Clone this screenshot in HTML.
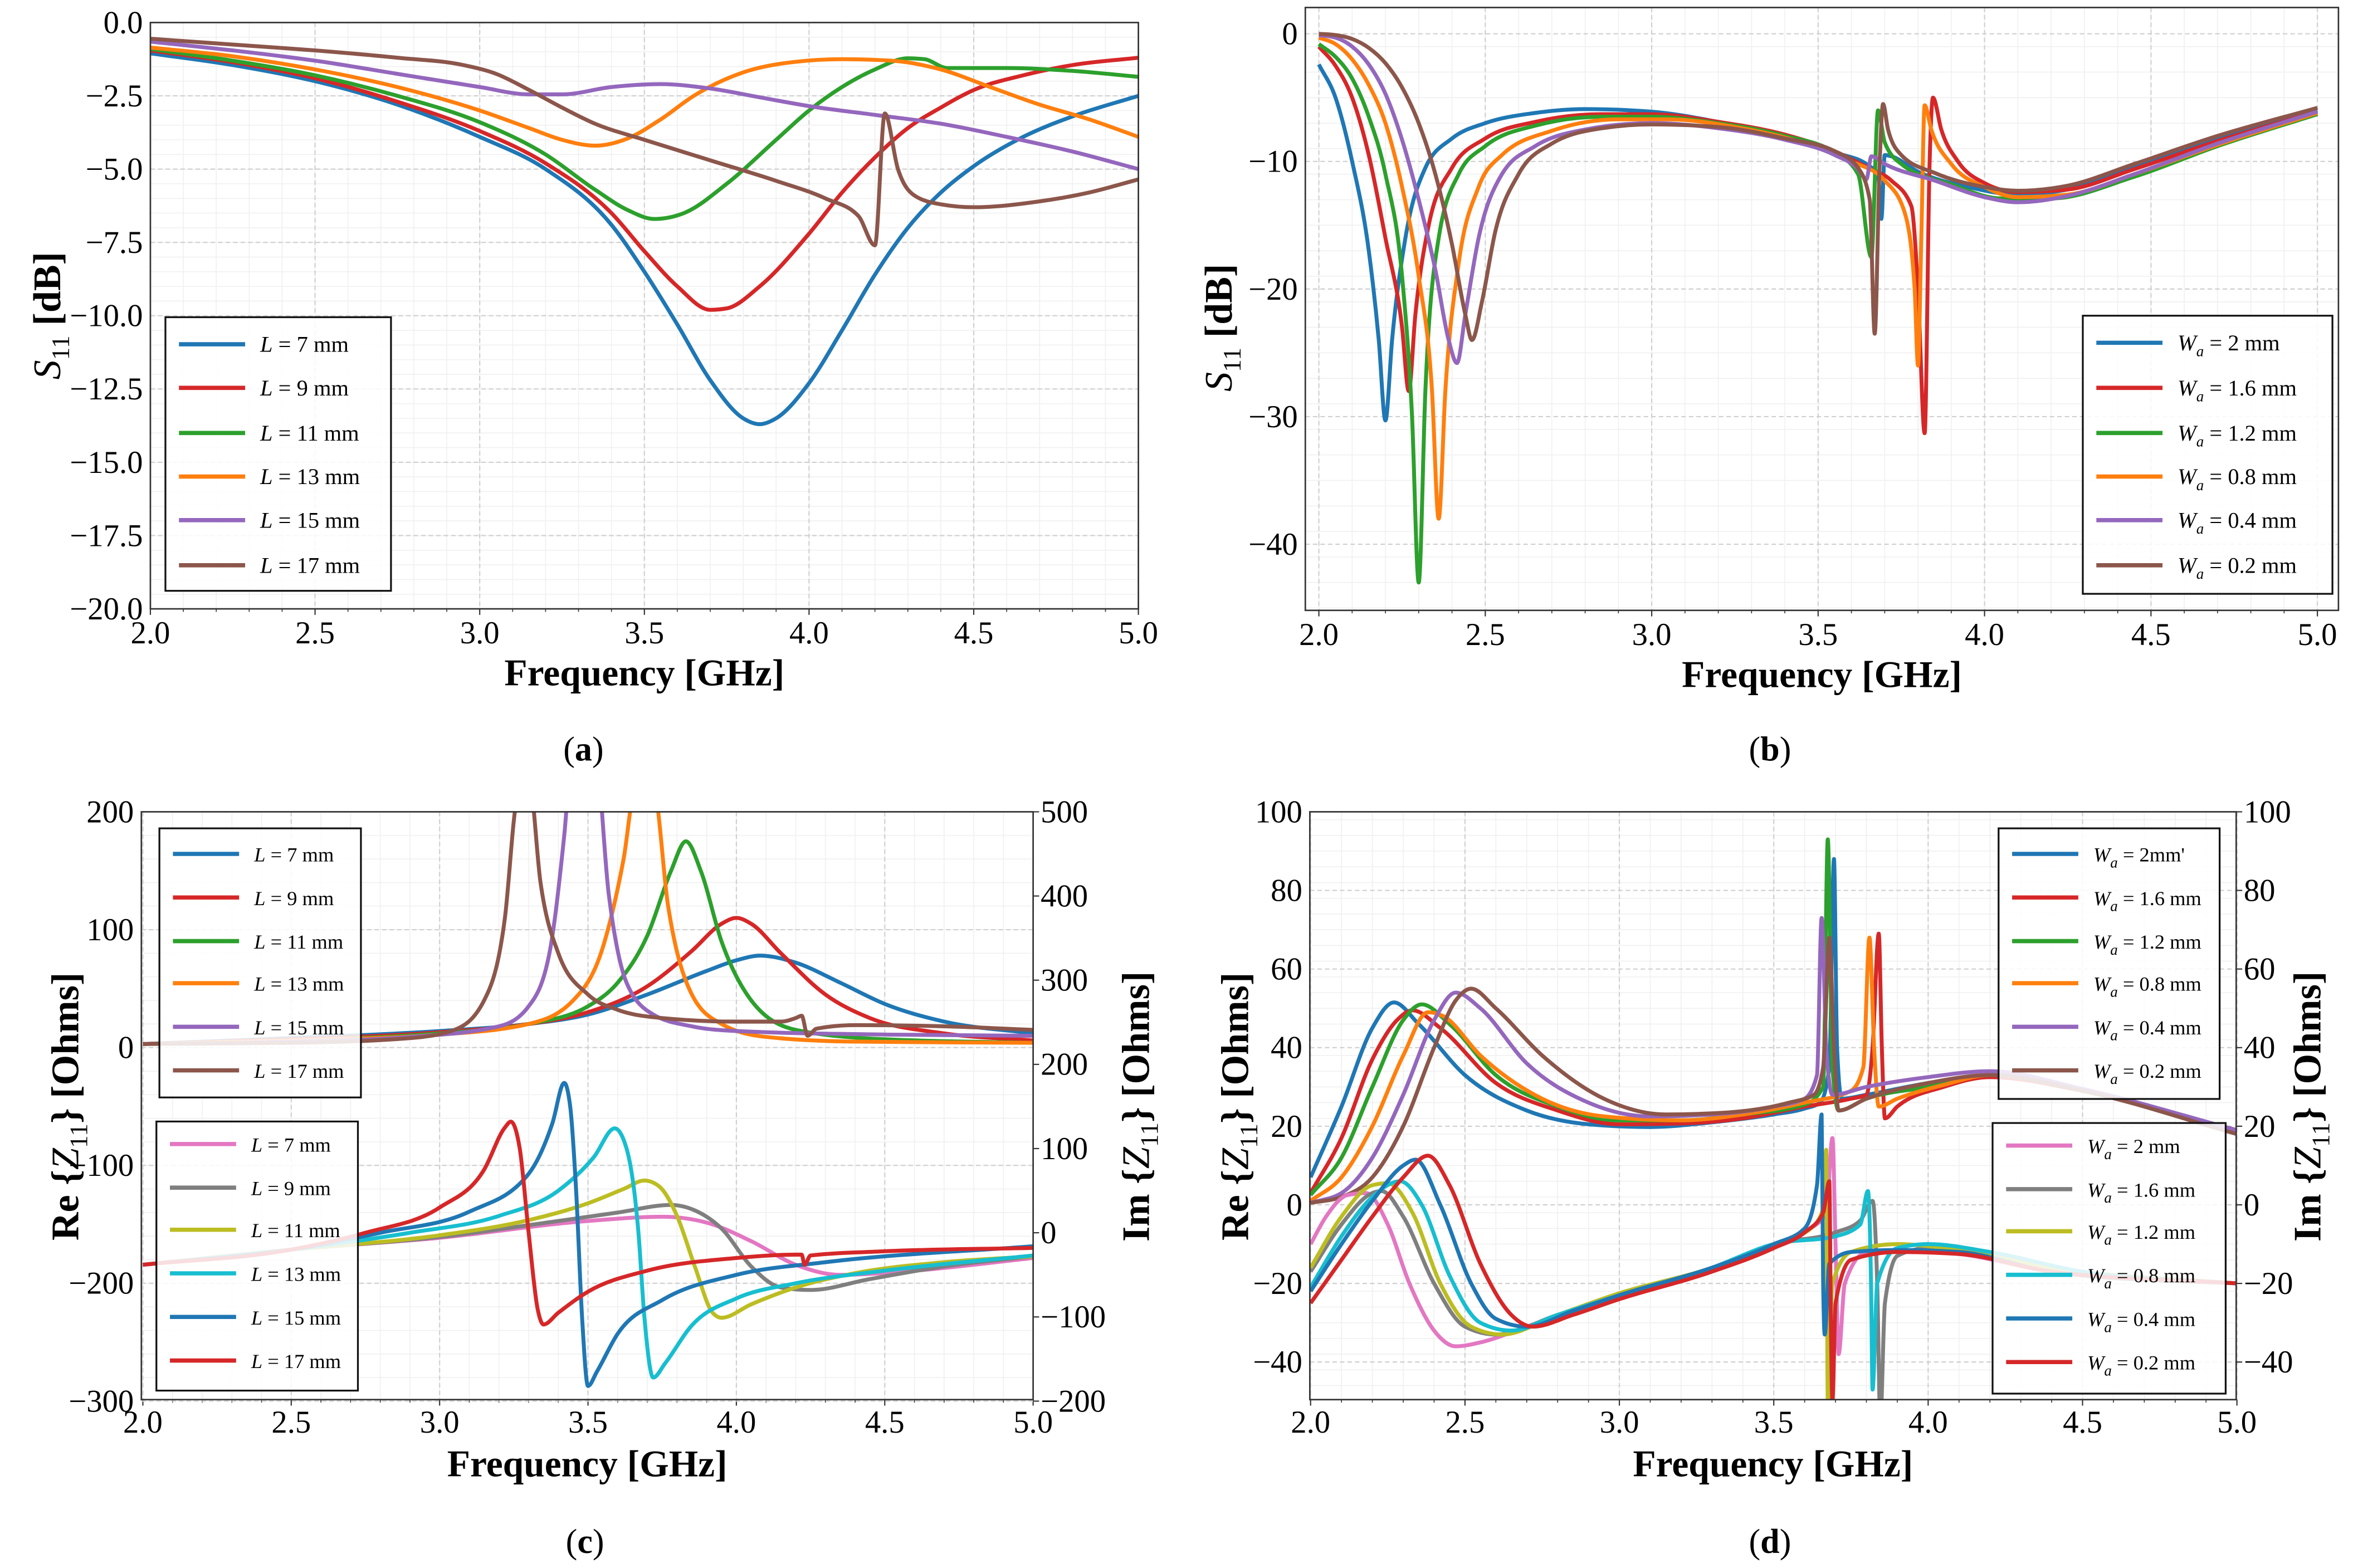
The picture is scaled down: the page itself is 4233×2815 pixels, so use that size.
<!DOCTYPE html>
<html><head><meta charset="utf-8"><title>S11 and Z11 parametric study</title>
<style>
html,body{margin:0;padding:0;background:#fff;}
svg{display:block;}
text{font-family:"Liberation Serif","DejaVu Serif",serif;fill:#000;}
</style></head>
<body>
<svg id="fig" xmlns="http://www.w3.org/2000/svg" width="4233" height="2815" viewBox="0 0 1568 1043" preserveAspectRatio="none"></svg>
<script>
// ---------- Panel (a): S11 vs L ----------
const a_L7  = [[2.0,-1.05],[2.25,-1.45],[2.5,-2.0],[2.75,-2.8],[3.0,-3.9],[3.2,-5.0],[3.4,-6.9],[3.5,-8.5],[3.6,-10.3],[3.7,-12.2],[3.8,-13.5],[3.85,-13.7],[3.9,-13.5],[4.0,-12.3],[4.1,-10.5],[4.2,-8.6],[4.3,-7.0],[4.4,-5.8],[4.5,-4.9],[4.65,-3.9],[4.8,-3.2],[5.0,-2.5]];
const a_L9  = [[2.0,-0.95],[2.25,-1.35],[2.5,-1.9],[2.75,-2.7],[3.0,-3.7],[3.2,-4.8],[3.4,-6.5],[3.5,-7.8],[3.6,-9.0],[3.7,-9.8],[3.75,-9.75],[3.85,-9.0],[4.0,-7.2],[4.1,-5.8],[4.2,-4.6],[4.3,-3.6],[4.4,-2.9],[4.5,-2.3],[4.65,-1.8],[4.8,-1.45],[5.0,-1.2]];
const a_L11 = [[2.0,-0.9],[2.25,-1.3],[2.5,-1.8],[2.75,-2.5],[3.0,-3.4],[3.2,-4.5],[3.35,-5.7],[3.45,-6.4],[3.53,-6.7],[3.62,-6.5],[3.75,-5.5],[3.9,-4.0],[4.0,-3.0],[4.1,-2.2],[4.2,-1.6],[4.3,-1.22],[4.35,-1.25],[4.42,-1.55],[4.6,-1.55],[4.8,-1.65],[5.0,-1.85]];
const a_L13 = [[2.0,-0.85],[2.25,-1.15],[2.5,-1.6],[2.75,-2.2],[3.0,-3.0],[3.15,-3.6],[3.25,-4.0],[3.35,-4.2],[3.45,-3.95],[3.55,-3.3],[3.65,-2.5],[3.8,-1.7],[3.95,-1.35],[4.1,-1.25],[4.25,-1.3],[4.4,-1.6],[4.55,-2.2],[4.7,-2.8],[4.85,-3.3],[5.0,-3.9]];
const a_L15 = [[2.0,-0.65],[2.25,-0.95],[2.5,-1.3],[2.75,-1.75],[3.0,-2.2],[3.15,-2.45],[3.25,-2.45],[3.4,-2.2],[3.55,-2.1],[3.7,-2.25],[3.85,-2.55],[4.0,-2.85],[4.2,-3.15],[4.4,-3.45],[4.6,-3.9],[4.8,-4.4],[5.0,-5.0]];
const a_L17 = [[2.0,-0.55],[2.25,-0.75],[2.5,-0.95],[2.75,-1.2],[2.95,-1.45],[3.05,-1.75],[3.15,-2.3],[3.25,-2.9],[3.35,-3.45],[3.5,-4.0],[3.7,-4.7],[3.9,-5.4],[4.05,-6.0],[4.15,-6.6],[4.2,-7.6],[4.23,-3.1],[4.27,-5.0],[4.32,-5.9],[4.4,-6.2],[4.5,-6.3],[4.7,-6.1],[4.85,-5.8],[5.0,-5.35]];
const a_labels = ["7","9","11","13","15","17"];
const a_yticks = [0,-2.5,-5,-7.5,-10,-12.5,-15,-17.5,-20];

// ---------- Panel (b): S11 vs Wa ----------
const b_W20 = [[2.0,-2.4],[2.05,-5],[2.1,-10],[2.15,-17],[2.18,-24],[2.2,-30.3],[2.22,-24],[2.26,-16],[2.32,-10.5],[2.4,-8.2],[2.5,-7],[2.65,-6.2],[2.8,-5.9],[3.0,-6.1],[3.2,-6.9],[3.4,-8.0],[3.55,-9.3],[3.65,-10.3],[3.68,-11],[3.69,-14.5],[3.70,-9.5],[3.72,-9.6],[3.8,-10.8],[3.95,-12],[4.1,-12.6],[4.25,-12.2],[4.45,-10.5],[4.7,-8.3],[5.0,-6.0]];
const b_W16 = [[2.0,-1.0],[2.05,-2.5],[2.1,-5],[2.15,-9.5],[2.2,-16],[2.25,-23],[2.27,-28],[2.29,-22],[2.33,-15],[2.4,-10.5],[2.5,-8.2],[2.65,-6.9],[2.85,-6.3],[3.0,-6.3],[3.2,-6.9],[3.4,-7.9],[3.55,-9.2],[3.65,-10.5],[3.72,-11.5],[3.78,-13.5],[3.8,-20],[3.82,-31.3],[3.835,-10],[3.845,-5.0],[3.87,-7.5],[3.92,-10.0],[4.0,-11.7],[4.1,-12.4],[4.25,-12.2],[4.45,-10.6],[4.7,-8.4],[5.0,-6.1]];
const b_W12 = [[2.0,-0.8],[2.05,-1.8],[2.1,-3.5],[2.15,-6.5],[2.2,-11],[2.25,-19],[2.28,-30],[2.3,-43],[2.32,-28],[2.36,-16],[2.42,-11],[2.5,-8.8],[2.65,-7.2],[2.85,-6.5],[3.0,-6.5],[3.2,-7.0],[3.4,-8.0],[3.55,-9.3],[3.62,-11],[3.66,-17.5],[3.68,-6.0],[3.7,-8.5],[3.75,-10.2],[3.9,-11.8],[4.05,-12.9],[4.2,-12.9],[4.45,-11.2],[4.7,-8.8],[5.0,-6.3]];
const b_W08 = [[2.0,-0.3],[2.05,-0.8],[2.1,-2],[2.15,-4],[2.2,-7],[2.25,-12],[2.3,-19],[2.34,-28],[2.36,-38],[2.38,-28],[2.42,-18],[2.48,-12],[2.55,-9.5],[2.7,-7.6],[2.9,-6.7],[3.05,-6.7],[3.25,-7.3],[3.45,-8.5],[3.6,-10],[3.7,-11.5],[3.76,-14],[3.79,-20],[3.8,-26],[3.81,-16],[3.82,-5.6],[3.84,-7.5],[3.9,-10.2],[4.0,-12.0],[4.1,-12.8],[4.25,-12.6],[4.45,-11],[4.7,-8.7],[5.0,-6.2]];
const b_W04 = [[2.0,-0.1],[2.05,-0.3],[2.1,-1.0],[2.15,-2.4],[2.2,-4.7],[2.25,-8.3],[2.3,-13],[2.35,-18.5],[2.39,-24],[2.415,-25.8],[2.44,-22],[2.48,-16],[2.55,-11],[2.65,-8.8],[2.8,-7.5],[3.0,-7.0],[3.2,-7.4],[3.4,-8.3],[3.55,-9.5],[3.62,-10.6],[3.645,-11.4],[3.66,-9.6],[3.7,-10.2],[3.85,-11.5],[4.0,-12.8],[4.1,-13.2],[4.25,-12.7],[4.45,-11],[4.7,-8.6],[5.0,-6.1]];
const b_W02 = [[2.0,0],[2.05,-0.1],[2.1,-0.4],[2.15,-1.1],[2.2,-2.3],[2.25,-4.2],[2.3,-7],[2.35,-11],[2.4,-16.5],[2.44,-22],[2.46,-24],[2.49,-21],[2.53,-15.5],[2.6,-11],[2.7,-8.6],[2.85,-7.4],[3.0,-7.1],[3.2,-7.3],[3.4,-8.2],[3.55,-9.2],[3.62,-10.5],[3.655,-13],[3.67,-23.5],[3.685,-10],[3.695,-5.5],[3.71,-7.5],[3.75,-9.5],[3.85,-10.9],[4.0,-12],[4.1,-12.3],[4.25,-11.9],[4.45,-10.2],[4.7,-8.0],[5.0,-5.8]];
const b_labels = ["2","1.6","1.2","0.8","0.4","0.2"];
const b_yticks = [0,-10,-20,-30,-40];

// ---------- Panel (c): Z11 vs L ----------
const c_re7  = [[2.0,3],[2.5,8],[3.0,14],[3.3,20],[3.5,28],[3.7,45],[3.9,65],[4.0,74],[4.08,78],[4.2,72],[4.35,55],[4.5,37],[4.7,22],[5.0,12]];
const c_re9  = [[2.0,3],[2.5,7],[3.0,13],[3.3,20],[3.5,30],[3.7,52],[3.85,82],[3.95,105],[4.0,110],[4.05,105],[4.15,80],[4.3,45],[4.45,25],[4.7,12],[5.0,6]];
const c_re11 = [[2.0,3],[2.5,6],[3.0,12],[3.3,20],[3.5,35],[3.6,55],[3.7,95],[3.78,150],[3.83,175],[3.88,150],[3.95,90],[4.05,40],[4.2,15],[4.5,7],[5.0,4]];
const c_re13 = [[2.0,3],[2.5,6],[3.0,11],[3.3,20],[3.45,40],[3.55,85],[3.62,160],[3.66,220],[3.72,220],[3.77,120],[3.85,45],[3.95,20],[4.1,9],[4.4,5],[5.0,4]];
const c_re15 = [[2.0,3],[2.5,5],[2.9,9],[3.2,18],[3.3,35],[3.37,80],[3.42,180],[3.45,260],[3.52,260],[3.57,130],[3.63,55],[3.72,28],[3.85,18],[4.0,14],[4.5,11],[5.0,10]];
const c_re17 = [[2.0,3],[2.5,4],[2.9,8],[3.05,15],[3.15,40],[3.22,110],[3.26,210],[3.3,230],[3.34,140],[3.4,80],[3.5,45],[3.6,32],[3.75,25],[4.0,22],[4.15,22],[4.2,25],[4.22,27],[4.24,10],[4.27,16],[4.4,19],[4.7,18],[5.0,15]];
const c_im7  = [[2.0,-38],[2.5,-20],[3.0,-6],[3.5,14],[3.75,19],[3.9,12],[4.05,-10],[4.2,-38],[4.35,-50],[4.6,-45],[5.0,-30]];
const c_im9  = [[2.0,-38],[2.5,-20],[3.0,-5],[3.4,14],[3.6,24],[3.78,33],[3.85,28],[3.95,5],[4.05,-40],[4.15,-65],[4.25,-68],[4.45,-55],[4.7,-40],[5.0,-28]];
const c_im11 = [[2.0,-38],[2.5,-20],[3.0,-3],[3.3,15],[3.5,35],[3.62,52],[3.69,62],[3.74,55],[3.8,20],[3.86,-40],[3.92,-95],[3.95,-101],[4.05,-85],[4.2,-65],[4.4,-48],[4.7,-35],[5.0,-28]];
const c_im13 = [[2.0,-38],[2.5,-20],[2.9,0],[3.2,20],[3.4,50],[3.52,90],[3.59,124],[3.63,100],[3.67,0],[3.69,-100],[3.72,-172],[3.76,-155],[3.85,-110],[4.0,-78],[4.2,-60],[4.5,-45],[5.0,-27]];
const c_im15 = [[2.0,-38],[2.5,-20],[2.8,0],[3.1,25],[3.3,70],[3.38,130],[3.42,178],[3.44,150],[3.46,50],[3.48,-100],[3.5,-182],[3.53,-165],[3.6,-120],[3.75,-80],[4.0,-50],[4.3,-35],[5.0,-16]];
const c_im17 = [[2.0,-38],[2.5,-20],[2.75,0],[3.0,30],[3.15,75],[3.22,125],[3.24,132],[3.27,100],[3.3,0],[3.33,-90],[3.35,-109],[3.4,-95],[3.5,-70],[3.7,-45],[4.0,-30],[4.2,-26],[4.22,-26],[4.23,-38],[4.25,-27],[4.5,-22],[5.0,-18]];
const c_ylTicks = [200,100,0,-100,-200,-300];
const c_yrTicks = [500,400,300,200,100,0,-100,-200];

// ---------- Panel (d): Z11 vs Wa ----------
const d_re20 = [[2.0,7],[2.1,25],[2.2,45],[2.27,51.5],[2.35,46],[2.5,33],[2.7,24],[2.9,20.5],[3.1,19.8],[3.3,21],[3.5,23],[3.6,24.5],[3.65,26],[3.68,35],[3.695,88],[3.705,40],[3.72,27],[3.8,28],[4.0,31],[4.2,33],[4.5,29],[5.0,19]];
const d_re16 = [[2.0,3],[2.1,17],[2.2,37],[2.28,47],[2.33,49.5],[2.42,45],[2.6,31],[2.8,24],[3.0,20.5],[3.2,20.7],[3.4,22],[3.6,25],[3.75,27],[3.8,28],[3.82,40],[3.84,69],[3.85,40],[3.86,22],[3.9,25],[4.05,30],[4.2,32.5],[4.5,29],[5.0,19]];
const d_re12 = [[2.0,2.5],[2.1,12],[2.2,30],[2.3,47],[2.36,51],[2.45,46],[2.6,33],[2.8,25],[3.0,21.5],[3.2,21.5],[3.4,23],[3.6,25.5],[3.66,30],[3.675,93],[3.69,35],[3.71,24],[3.8,27],[4.0,30],[4.2,33],[4.5,29],[5.0,19]];
const d_re08 = [[2.0,1],[2.1,7],[2.2,20],[2.3,38],[2.38,49],[2.43,48],[2.55,38],[2.75,27],[2.95,22.5],[3.2,21.5],[3.4,23],[3.6,26],[3.75,29],[3.79,35],[3.81,68],[3.825,40],[3.84,25],[3.9,27],[4.05,30.5],[4.2,33],[4.5,29],[5.0,19]];
const d_re04 = [[2.0,0.5],[2.1,3],[2.2,12],[2.3,28],[2.4,47],[2.47,54],[2.55,50],[2.7,36],[2.9,26],[3.1,22.5],[3.3,23],[3.5,25],[3.6,27],[3.64,33],[3.655,73],[3.67,40],[3.69,28],[3.8,30],[4.0,32.5],[4.2,34],[4.5,29.5],[5.0,19]];
const d_re02 = [[2.0,0.5],[2.1,2],[2.2,7],[2.3,20],[2.4,40],[2.47,52],[2.52,55],[2.6,50],[2.75,38],[2.95,27],[3.15,23],[3.35,23.5],[3.55,26],[3.63,28],[3.66,35],[3.68,68],[3.695,40],[3.71,24],[3.8,27],[4.0,31],[4.2,33],[4.5,29],[5.0,18]];
const d_im20 = [[2.0,-10],[2.05,-3],[2.12,2.5],[2.18,3],[2.25,-5],[2.32,-20],[2.4,-32],[2.47,-36],[2.55,-35],[2.7,-31],[3.0,-23],[3.3,-16],[3.5,-10],[3.62,-6],[3.67,-2],[3.69,17],[3.7,-10],[3.71,-38],[3.73,-20],[3.8,-12],[3.9,-11.5],[4.1,-12.5],[4.4,-17],[5.0,-20]];
const d_im16 = [[2.0,-17],[2.1,-5],[2.2,3],[2.23,3.5],[2.3,-3],[2.4,-20],[2.5,-31],[2.6,-33],[2.8,-28],[3.0,-23],[3.3,-16],[3.5,-10],[3.7,-7],[3.78,-4],[3.82,1],[3.835,-20],[3.845,-55],[3.86,-25],[3.9,-13],[4.0,-11],[4.2,-13],[4.5,-18],[5.0,-20]];
const d_im12 = [[2.0,-16],[2.1,-3],[2.2,5],[2.25,5.5],[2.33,-2],[2.42,-20],[2.52,-31],[2.62,-33],[2.8,-28],[3.0,-22.5],[3.3,-16],[3.5,-10],[3.62,-6],[3.66,-1],[3.67,14],[3.675,-50],[3.69,-20],[3.75,-12],[3.9,-10],[4.1,-11.5],[4.4,-16],[5.0,-20]];
const d_im08 = [[2.0,-21],[2.1,-8],[2.2,2],[2.29,6],[2.36,0],[2.45,-18],[2.55,-30],[2.65,-32],[2.8,-28],[3.0,-23],[3.3,-16],[3.5,-10],[3.7,-8],[3.78,-5],[3.805,3.5],[3.815,-20],[3.82,-47],[3.835,-20],[3.9,-11],[4.0,-10],[4.2,-12],[4.5,-17],[5.0,-20]];
const d_im04 = [[2.0,-22],[2.1,-10],[2.2,1],[2.3,10],[2.34,11.5],[2.42,0],[2.52,-20],[2.6,-29],[2.7,-31],[2.85,-27],[3.0,-23],[3.3,-16],[3.5,-10],[3.6,-6],[3.64,5],[3.655,23],[3.66,-20],[3.665,-33],[3.68,-15],[3.75,-12],[3.9,-11.5],[4.1,-12],[4.4,-17],[5.0,-20]];
const d_im02 = [[2.0,-25],[2.1,-14],[2.2,-3],[2.3,7],[2.38,12.5],[2.45,5],[2.55,-15],[2.65,-28],[2.72,-31],[2.85,-28],[3.0,-24],[3.3,-17],[3.5,-11],[3.6,-7],[3.66,-2],[3.68,6],[3.685,-30],[3.69,-50],[3.7,-25],[3.75,-14],[3.9,-12],[4.1,-12.5],[4.4,-17],[5.0,-20]];
const d_yTicks = [100,80,60,40,20,0,-20,-40];
const d_legendRe = ["2mm'","1.6 mm","1.2 mm","0.8 mm","0.4 mm","0.2 mm"];
const d_legendIm = ["2 mm","1.6 mm","1.2 mm","0.8 mm","0.4 mm","0.2 mm"];

const xTicks = [2.0,2.5,3.0,3.5,4.0,4.5,5.0];
const C = {blue:'#1f77b4',red:'#d62728',green:'#2ca02c',orange:'#ff7f0e',purple:'#9467bd',brown:'#8c564b',pink:'#e377c2',gray:'#7f7f7f',olive:'#bcbd22',cyan:'#17becf'};

const NS='http://www.w3.org/2000/svg';
const svg=document.getElementById('fig');
function mk(tag,parent){const e=document.createElementNS(NS,tag);(parent||svg).appendChild(e);return e;}
function lin(d0,p0,d1,p1){return v=>p0+(v-d0)*(p1-p0)/(d1-d0);}
function fmt(v,dec){let s=v.toFixed(dec);return s.replace('-','\u2212');}

function monoPath(pts){
  const n=pts.length; if(n<2) return '';
  const s=[],h=[];
  for(let i=0;i<n-1;i++){h[i]=pts[i+1][0]-pts[i][0];s[i]=(pts[i+1][1]-pts[i][1])/h[i];}
  const t=[];
  t[0]=s[0];t[n-1]=s[n-2];
  for(let i=1;i<n-1;i++){
    const p=(s[i-1]*h[i]+s[i]*h[i-1])/(h[i-1]+h[i]);
    t[i]=(Math.sign(s[i-1])+Math.sign(s[i]))*Math.min(Math.abs(s[i-1]),Math.abs(s[i]),0.5*Math.abs(p))||0;
  }
  let d='M'+pts[0][0].toFixed(2)+','+pts[0][1].toFixed(2);
  for(let i=0;i<n-1;i++){
    const dx=h[i]/3;
    d+='C'+(pts[i][0]+dx).toFixed(2)+','+(pts[i][1]+t[i]*dx).toFixed(2)+' '+(pts[i+1][0]-dx).toFixed(2)+','+(pts[i+1][1]-t[i+1]*dx).toFixed(2)+' '+pts[i+1][0].toFixed(2)+','+pts[i+1][1].toFixed(2);
  }
  return d;
}

function panel(p){
  const g=mk('g');
  
  
  const F=p.frame, xs=p.xs;
  // minor grid
  for(let f=2.0;f<=5.0001;f+=0.1){
    const x=xs(f); if(x<F.l||x>F.r) continue;
    const l=mk('line',g);l.setAttribute('x1',x);l.setAttribute('x2',x);l.setAttribute('y1',F.t);l.setAttribute('y2',F.b);
    l.setAttribute('stroke','#f0f0f0');l.setAttribute('stroke-width','0.6');
  }
  const ym=p.yMinor;
  for(let v=ym[0];v<=ym[1]+1e-9;v+=ym[2]){
    const y=p.ys(v); if(y<F.t||y>F.b) continue;
    const l=mk('line',g);l.setAttribute('x1',F.l);l.setAttribute('x2',F.r);l.setAttribute('y1',y);l.setAttribute('y2',y);
    l.setAttribute('stroke','#f0f0f0');l.setAttribute('stroke-width','0.6');
  }
  // major grid
  xTicks.forEach(f=>{
    const x=xs(f);
    const l=mk('line',g);l.setAttribute('x1',x);l.setAttribute('x2',x);l.setAttribute('y1',F.t);l.setAttribute('y2',F.b);
    l.setAttribute('stroke','#cfcfcf');l.setAttribute('stroke-width','0.8');l.setAttribute('stroke-dasharray','3,2');
    
    
    const t=mk('text',g);t.setAttribute('x',x);t.setAttribute('y',F.b+p.xTickDy);t.setAttribute('text-anchor','middle');t.setAttribute('font-size','21');
    t.textContent=f.toFixed(1);
    
    
    const tk=mk('line',g);tk.setAttribute('x1',x);tk.setAttribute('x2',x);tk.setAttribute('y1',F.b);tk.setAttribute('y2',F.b+4);tk.setAttribute('stroke','#333');tk.setAttribute('stroke-width','0.8');
  });
  for(let f=2.1;f<5;f+=0.1){const x=xs(f);if(x<F.l||x>F.r)continue;const tk=mk('line',g);tk.setAttribute('x1',x);tk.setAttribute('x2',x);tk.setAttribute('y1',F.b);tk.setAttribute('y2',F.b+2);tk.setAttribute('stroke','#333');tk.setAttribute('stroke-width','0.6');}
  p.yTicks.forEach(v=>{
    const y=p.ys(v);
    const l=mk('line',g);l.setAttribute('x1',F.l);l.setAttribute('x2',F.r);l.setAttribute('y1',y);l.setAttribute('y2',y);
    l.setAttribute('stroke','#cfcfcf');l.setAttribute('stroke-width','0.8');l.setAttribute('stroke-dasharray','3,2');
    
    
    const t=mk('text',g);t.setAttribute('x',F.l-5);t.setAttribute('y',y+7);t.setAttribute('text-anchor','end');t.setAttribute('font-size','21');
    t.textContent=fmt(v,p.yDec);
    
    
  });
  if(p.yrTicks){
    p.yrTicks.forEach(v=>{
      const y=p.yrs(v);
      const t=mk('text',g);t.setAttribute('x',F.r+5);t.setAttribute('y',y+7);t.setAttribute('text-anchor','start');t.setAttribute('font-size','21');
      t.textContent=fmt(v,0);
      
      
      const tk=mk('line',g);tk.setAttribute('x1',F.r);tk.setAttribute('x2',F.r+4);tk.setAttribute('y1',y);tk.setAttribute('y2',y);tk.setAttribute('stroke','#333');tk.setAttribute('stroke-width','0.8');
    });
  }
  // clip
  const cp=mk('clipPath',g);cp.setAttribute('id','clip-'+p.name);
  const cr=mk('rect',cp);cr.setAttribute('x',F.l);cr.setAttribute('y',F.t);cr.setAttribute('width',F.r-F.l);cr.setAttribute('height',F.b-F.t);
  const sg=mk('g',g);sg.setAttribute('clip-path','url(#clip-'+p.name+')');
  p.series.forEach(s=>{
    const ysc=s.right?p.yrs:p.ys;
    const pts=s.data.map(d=>[xs(d[0]),ysc(d[1])]);
    const path=mk('path',sg);path.setAttribute('d',monoPath(pts));path.setAttribute('fill','none');
    path.setAttribute('stroke',s.color);path.setAttribute('stroke-width','2.6');path.setAttribute('stroke-linejoin','round');
    
    
  });
  // frame
  const fr=mk('rect',g);fr.setAttribute('x',F.l);fr.setAttribute('y',F.t);fr.setAttribute('width',F.r-F.l);fr.setAttribute('height',F.b-F.t);
  fr.setAttribute('fill','none');fr.setAttribute('stroke','#333');fr.setAttribute('stroke-width','1');
  
  
  // x label
  const xl=mk('text',g);xl.setAttribute('x',(F.l+F.r)/2);xl.setAttribute('y',p.xLabelY);xl.setAttribute('text-anchor','middle');xl.setAttribute('font-size','25');xl.setAttribute('font-weight','bold');
  xl.textContent='Frequency [GHz]';
  
  
  // caption
  const cap=mk('text',g);cap.setAttribute('x',p.cap[0]);cap.setAttribute('y',p.cap[1]);cap.setAttribute('text-anchor','middle');cap.setAttribute('font-size','23');
  cap.innerHTML=p.capText;
  
  
  return g;
}

function yTitle(g,x,y,html,name){
  const t=mk('text',g);t.setAttribute('transform','translate('+x+','+y+') rotate(-90)');t.setAttribute('text-anchor','middle');
  t.setAttribute('font-size','26');t.setAttribute('font-weight','bold');
  t.innerHTML=html;
  
  
}

function legend(g,box,entries,ys,name){
  const lg=mk('g',g);
  
  
  const r=mk('rect',lg);r.setAttribute('x',box[0]);r.setAttribute('y',box[1]);r.setAttribute('width',box[2]-box[0]);r.setAttribute('height',box[3]-box[1]);
  r.setAttribute('fill','#fff');r.setAttribute('fill-opacity','0.85');r.setAttribute('stroke','#111');r.setAttribute('stroke-width','1.2');
  entries.forEach((e,i)=>{
    const y=ys[i];
    const eg=mk('g',lg);
    
    
    const l=mk('line',eg);l.setAttribute('x1',box[0]+9);l.setAttribute('x2',box[0]+53);l.setAttribute('y1',y);l.setAttribute('y2',y);
    l.setAttribute('stroke',e.color);l.setAttribute('stroke-width','2.8');
    const t=mk('text',eg);t.setAttribute('x',box[0]+63);t.setAttribute('y',y+5);t.setAttribute('font-size',e.fs||15);
    t.innerHTML=e.html;
  });
}
function Lhtml(v){return '<tspan font-style="italic">L</tspan> = '+v+' mm';}
function Whtml(v){return '<tspan font-style="italic">W</tspan><tspan font-style="italic" font-size="10" dy="4">a</tspan><tspan dy="-4"> = '+v+'</tspan>';}

// ---- Panel A ----
const gA=panel({name:'panel-a',frame:{l:100,r:757,t:15,b:405},xs:lin(2,100,5,757),ys:lin(0,15,-20,405),
  yTicks:a_yticks,yDec:1,yMinor:[-20,0,0.5],xTickDy:23,xLabelY:456,cap:[388,506],capText:'(<tspan font-weight="bold">a</tspan>)',
  series:[{data:a_L7,color:C.blue,name:'curve-l-7mm'},{data:a_L9,color:C.red,name:'curve-l-9mm'},{data:a_L11,color:C.green,name:'curve-l-11mm'},
          {data:a_L13,color:C.orange,name:'curve-l-13mm'},{data:a_L15,color:C.purple,name:'curve-l-15mm'},{data:a_L17,color:C.brown,name:'curve-l-17mm'}]});
yTitle(gA,40,210,'<tspan font-style="italic" font-weight="normal">S</tspan><tspan font-size="17" font-weight="normal" dy="6">11</tspan><tspan dy="-6"> [dB]</tspan>','y-axis-title');
const colA=[C.blue,C.red,C.green,C.orange,C.purple,C.brown];
legend(gA,[110,211,260,393],a_labels.map((v,i)=>({color:colA[i],html:Lhtml(v)})),[229,258,288,317,346,376],'legend-l');

// ---- Panel B ----
const gB=panel({name:'panel-b',frame:{l:868,r:1555,t:5,b:406},xs:lin(2,877,5,1541),ys:lin(0,22.5,-40,362),
  yTicks:b_yticks,yDec:0,yMinor:[-45,0,2],xTickDy:23,xLabelY:457,cap:[1177,506],capText:'(<tspan font-weight="bold">b</tspan>)',
  series:[{data:b_W20,color:C.blue,name:'curve-wa-2mm'},{data:b_W16,color:C.red,name:'curve-wa-1.6mm'},{data:b_W12,color:C.green,name:'curve-wa-1.2mm'},
          {data:b_W08,color:C.orange,name:'curve-wa-0.8mm'},{data:b_W04,color:C.purple,name:'curve-wa-0.4mm'},{data:b_W02,color:C.brown,name:'curve-wa-0.2mm'}]});
yTitle(gB,819,218,'<tspan font-style="italic" font-weight="normal">S</tspan><tspan font-size="17" font-weight="normal" dy="6">11</tspan><tspan dy="-6"> [dB]</tspan>','y-axis-title');
legend(gB,[1385,210,1551,395],b_labels.map((v,i)=>({color:colA[i],html:Whtml(v+' mm')})),[228,258,288,317,346,376],'legend-wa');

// ---- Panel C ----
const gC=panel({name:'panel-c',frame:{l:94,r:687,t:540,b:931},xs:lin(2,95,5,687),ys:lin(200,540,-300,932),yrs:lin(500,540,-200,932),
  yTicks:c_ylTicks,yrTicks:c_yrTicks,yDec:0,yMinor:[-300,200,20],xTickDy:22,xLabelY:982,cap:[389,1033],capText:'(<tspan font-weight="bold">c</tspan>)',
  series:[{data:c_re7,color:C.blue,name:'re-l-7mm'},{data:c_re9,color:C.red,name:'re-l-9mm'},{data:c_re11,color:C.green,name:'re-l-11mm'},
          {data:c_re13,color:C.orange,name:'re-l-13mm'},{data:c_re15,color:C.purple,name:'re-l-15mm'},{data:c_re17,color:C.brown,name:'re-l-17mm'},
          {data:c_im7,color:C.pink,right:true,name:'im-l-7mm'},{data:c_im9,color:C.gray,right:true,name:'im-l-9mm'},{data:c_im11,color:C.olive,right:true,name:'im-l-11mm'},
          {data:c_im13,color:C.cyan,right:true,name:'im-l-13mm'},{data:c_im15,color:C.blue,right:true,name:'im-l-15mm'},{data:c_im17,color:C.red,right:true,name:'im-l-17mm'}]});
yTitle(gC,52,736,'Re {<tspan font-style="italic" font-weight="normal">Z</tspan><tspan font-size="17" font-weight="normal" dy="6">11</tspan><tspan dy="-6">} [Ohms]</tspan>','y-axis-title-left');
yTitle(gC,764,736,'Im {<tspan font-style="italic" font-weight="normal">Z</tspan><tspan font-size="17" font-weight="normal" dy="6">11</tspan><tspan dy="-6">} [Ohms]</tspan>','y-axis-title-right');
const colIm=[C.pink,C.gray,C.olive,C.cyan,C.blue,C.red];
legend(gC,[106,551,240,730],a_labels.map((v,i)=>({color:colA[i],html:Lhtml(v),fs:13.5})),[568,597,626,654,683,712],'legend-re');
legend(gC,[104,746,238,925],a_labels.map((v,i)=>({color:colIm[i],html:Lhtml(v),fs:13.5})),[761,790,818,847,876,905],'legend-im');

// ---- Panel D ----
const gD=panel({name:'panel-d',frame:{l:871,r:1487,t:540,b:931},xs:lin(2,871.5,5,1487.5),ys:lin(100,540,-40,906),yrs:lin(100,540,-40,906),
  yTicks:d_yTicks,yrTicks:d_yTicks,yDec:0,yMinor:[-50,100,4],xTickDy:22,xLabelY:982,cap:[1177,1033],capText:'(<tspan font-weight="bold">d</tspan>)',
  series:[{data:d_re20,color:C.blue,name:'re-wa-2mm'},{data:d_re16,color:C.red,name:'re-wa-1.6mm'},{data:d_re12,color:C.green,name:'re-wa-1.2mm'},
          {data:d_re08,color:C.orange,name:'re-wa-0.8mm'},{data:d_re04,color:C.purple,name:'re-wa-0.4mm'},{data:d_re02,color:C.brown,name:'re-wa-0.2mm'},
          {data:d_im20,color:C.pink,right:true,name:'im-wa-2mm'},{data:d_im16,color:C.gray,right:true,name:'im-wa-1.6mm'},{data:d_im12,color:C.olive,right:true,name:'im-wa-1.2mm'},
          {data:d_im08,color:C.cyan,right:true,name:'im-wa-0.8mm'},{data:d_im04,color:C.blue,right:true,name:'im-wa-0.4mm'},{data:d_im02,color:C.red,right:true,name:'im-wa-0.2mm'}]});
yTitle(gD,830,736,'Re {<tspan font-style="italic" font-weight="normal">Z</tspan><tspan font-size="17" font-weight="normal" dy="6">11</tspan><tspan dy="-6">} [Ohms]</tspan>','y-axis-title-left');
yTitle(gD,1543,736,'Im {<tspan font-style="italic" font-weight="normal">Z</tspan><tspan font-size="17" font-weight="normal" dy="6">11</tspan><tspan dy="-6">} [Ohms]</tspan>','y-axis-title-right');
legend(gD,[1329,551,1476,731],d_legendRe.map((v,i)=>({color:colA[i],html:Whtml(v),fs:13.5})),[568,597,626,654,683,712],'legend-re');
legend(gD,[1325,747,1480,927],d_legendIm.map((v,i)=>({color:colIm[i],html:Whtml(v),fs:13.5})),[762,791,819,848,877,906],'legend-im');
</script>
</body></html>
